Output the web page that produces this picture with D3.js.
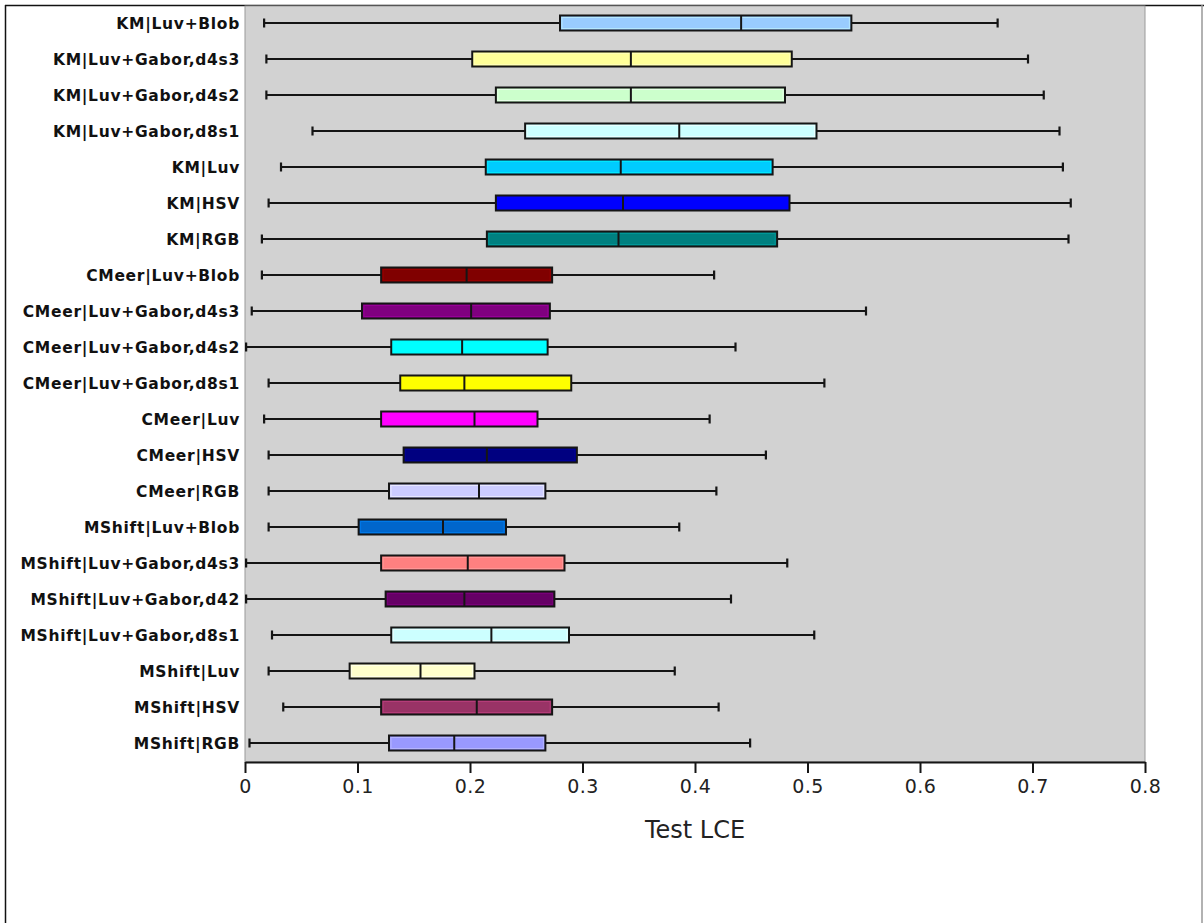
<!DOCTYPE html>
<html>
<head>
<meta charset="utf-8">
<script src="https://cdn.jsdelivr.net/npm/d3@7"></script>
<style>
  html, body { margin: 0; padding: 0; background: #fff; }
  svg { display: block; }
</style>
</head>
<body>
<svg id="chart" width="1204" height="923"></svg>
<script>
const categories = [
  "KM|Luv+Blob", "KM|Luv+Gabor,d4s3", "KM|Luv+Gabor,d4s2", "KM|Luv+Gabor,d8s1",
  "KM|Luv", "KM|HSV", "KM|RGB",
  "CMeer|Luv+Blob", "CMeer|Luv+Gabor,d4s3", "CMeer|Luv+Gabor,d4s2", "CMeer|Luv+Gabor,d8s1",
  "CMeer|Luv", "CMeer|HSV", "CMeer|RGB",
  "MShift|Luv+Blob", "MShift|Luv+Gabor,d4s3", "MShift|Luv+Gabor,d42", "MShift|Luv+Gabor,d8s1",
  "MShift|Luv", "MShift|HSV", "MShift|RGB"
];
const whiskerLow = [0.017, 0.019, 0.019, 0.060, 0.032, 0.021, 0.015,
                    0.015, 0.006, 0.001, 0.021, 0.017, 0.021, 0.021,
                    0.021, 0.001, 0.001, 0.024, 0.021, 0.034, 0.004];
const q1 =        [0.280, 0.202, 0.223, 0.249, 0.214, 0.223, 0.215,
                    0.121, 0.104, 0.130, 0.138, 0.121, 0.141, 0.128,
                    0.101, 0.121, 0.125, 0.130, 0.093, 0.121, 0.128];
const median =    [0.441, 0.343, 0.343, 0.386, 0.334, 0.336, 0.332,
                    0.197, 0.201, 0.193, 0.195, 0.204, 0.215, 0.208,
                    0.176, 0.198, 0.195, 0.219, 0.156, 0.206, 0.186];
const q3 =        [0.539, 0.486, 0.480, 0.508, 0.469, 0.484, 0.473,
                    0.273, 0.271, 0.269, 0.290, 0.260, 0.295, 0.267,
                    0.232, 0.284, 0.275, 0.288, 0.204, 0.273, 0.267];
const whiskerHigh = [0.669, 0.696, 0.710, 0.724, 0.727, 0.734, 0.732,
                     0.417, 0.552, 0.436, 0.515, 0.413, 0.463, 0.419,
                     0.386, 0.482, 0.432, 0.506, 0.382, 0.421, 0.449];
const boxColors = ["#99ccff", "#ffff99", "#ccffcc", "#ccffff", "#00ccff", "#0000ff", "#008080",
                   "#800000", "#800080", "#00ffff", "#ffff00", "#ff00ff", "#000080", "#ccccff",
                   "#0066cc", "#ff8080", "#660066", "#ccffff", "#ffffcc", "#993366", "#9999ff"];
const xTicks = [0, 0.1, 0.2, 0.3, 0.4, 0.5, 0.6, 0.7, 0.8];
const xTickLabels = ["0", "0.1", "0.2", "0.3", "0.4", "0.5", "0.6", "0.7", "0.8"];
const xTitle = "Test LCE";

const data = categories.map((c, i) => ({
  name: c, lo: whiskerLow[i], q1: q1[i], med: median[i], q3: q3[i], hi: whiskerHigh[i], color: boxColors[i]
}));

const svg = d3.select("#chart");
const plot = { left: 245, right: 1145, top: 5, bottom: 762 };

const x = d3.scaleLinear().domain([0, 0.8]).range([plot.left, plot.right]);
const y = d3.scaleBand().domain(categories).range([plot.top, plot.top + 36 * categories.length]).padding(0);
const boxH = 15;
const capH = 9;
const ink = "#151515";

// outer frame
svg.append("line").attr("x1", 5).attr("x2", 1204).attr("y1", 5.5).attr("y2", 5.5)
  .attr("stroke", "#111").attr("stroke-width", 1.5);
svg.append("line").attr("x1", 5.5).attr("x2", 5.5).attr("y1", 5).attr("y2", 923)
  .attr("stroke", "#111").attr("stroke-width", 1.5);
svg.append("line").attr("x1", 1202).attr("x2", 1202).attr("y1", 5).attr("y2", 923)
  .attr("stroke", "#999").attr("stroke-width", 1.5);

// plot background
svg.append("rect")
  .attr("x", plot.left).attr("y", plot.top + 1)
  .attr("width", plot.right - plot.left).attr("height", plot.bottom - plot.top - 1)
  .attr("fill", "#d2d2d2").attr("stroke", "#9a9a9a").attr("stroke-width", 1);

const g = svg.append("g");
const rows = g.selectAll("g.row").data(data).join("g").attr("class", "row")
  .attr("transform", d => `translate(0,${y(d.name) + y.bandwidth() / 2})`);

// whisker line
rows.append("line")
  .attr("x1", d => x(d.lo)).attr("x2", d => x(d.hi))
  .attr("y1", 0).attr("y2", 0)
  .attr("stroke", ink).attr("stroke-width", 2);
// caps
rows.append("line")
  .attr("x1", d => x(d.lo)).attr("x2", d => x(d.lo))
  .attr("y1", -capH / 2).attr("y2", capH / 2)
  .attr("stroke", ink).attr("stroke-width", 2.2);
rows.append("line")
  .attr("x1", d => x(d.hi)).attr("x2", d => x(d.hi))
  .attr("y1", -capH / 2).attr("y2", capH / 2)
  .attr("stroke", ink).attr("stroke-width", 2.2);
// box
rows.append("rect")
  .attr("x", d => x(d.q1)).attr("y", -boxH / 2)
  .attr("width", d => x(d.q3) - x(d.q1)).attr("height", boxH)
  .attr("fill", d => d.color)
  .attr("stroke", ink).attr("stroke-width", 2);
// bevel highlight
rows.append("rect")
  .attr("x", d => x(d.q1) + 2).attr("y", -boxH / 2 + 2)
  .attr("width", d => Math.max(0, x(d.q3) - x(d.q1) - 4)).attr("height", boxH - 4)
  .attr("fill", "none")
  .attr("stroke", d => d3.color(d.color).brighter(0.8).formatHex())
  .attr("stroke-opacity", 0.55)
  .attr("stroke-width", 1);
// median
rows.append("line")
  .attr("x1", d => x(d.med)).attr("x2", d => x(d.med))
  .attr("y1", -boxH / 2).attr("y2", boxH / 2)
  .attr("stroke", ink).attr("stroke-width", 2);

// category labels
rows.append("text")
  .attr("x", 240).attr("y", 0).attr("dy", "0.36em")
  .attr("text-anchor", "end")
  .attr("font-family", "DejaVu Sans, sans-serif")
  .attr("font-weight", "bold")
  .attr("font-size", 15.5)
  .attr("letter-spacing", 0.7)
  .attr("fill", "#111")
  .text(d => d.name);

// x axis
const axis = d3.axisBottom(x)
  .tickValues(xTicks)
  .tickFormat((d, i) => xTickLabels[i])
  .tickSize(11)
  .tickPadding(7)
  .tickSizeOuter(0);
const ax = svg.append("g").attr("transform", `translate(0,${plot.bottom})`).call(axis);
ax.select(".domain").attr("stroke", ink).attr("stroke-width", 2);
ax.selectAll(".tick line").attr("stroke", ink).attr("stroke-width", 2);
ax.selectAll(".tick text")
  .attr("font-family", "DejaVu Sans, sans-serif")
  .attr("font-size", 19)
  .attr("letter-spacing", 0.5)
  .attr("fill", "#222");

svg.append("text")
  .attr("x", x(0.4)).attr("y", 838)
  .attr("text-anchor", "middle")
  .attr("font-family", "DejaVu Sans, sans-serif")
  .attr("font-size", 24)
  .attr("fill", "#222")
  .text(xTitle);
</script>
</body>
</html>
